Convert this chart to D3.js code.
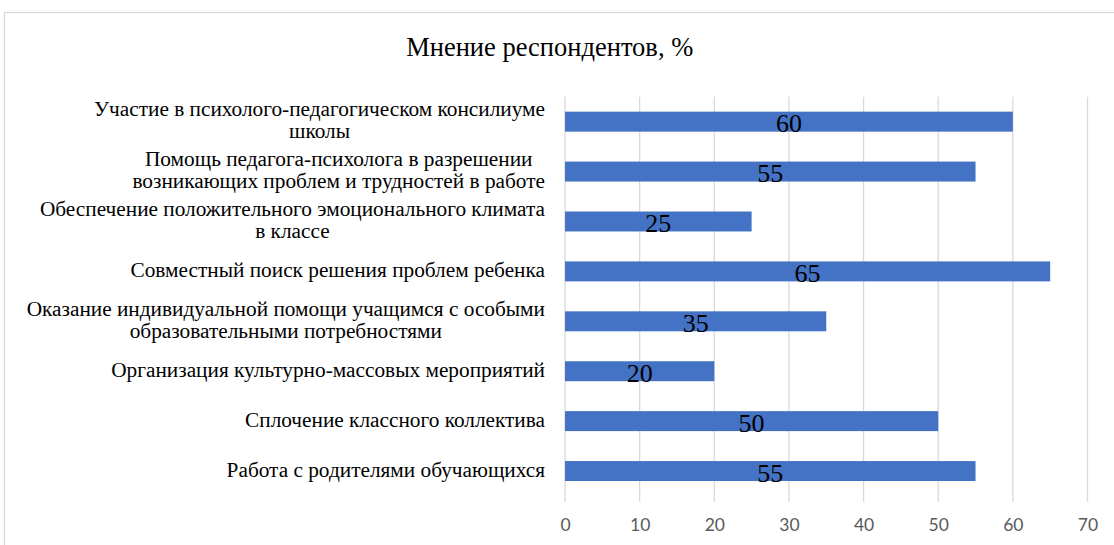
<!DOCTYPE html>
<html>
<head>
<meta charset="utf-8">
<script src="https://cdn.jsdelivr.net/npm/d3@7"></script>
<style>
  html, body { margin: 0; padding: 0; background: #fff; }
  svg { display: block; }
  svg text { font-family: 'Liberation Serif', 'Times New Roman', serif; }
  svg text.tick-label { font-family: Lato, 'Liberation Sans', sans-serif; }
</style>
</head>
<body>
<svg id="chart" width="1114" height="545"></svg>
<script>
const title = "Мнение респондентов, %";
const categories = [
  ["Участие в психолого-педагогическом консилиуме", "школы"],
  ["Помощь педагога-психолога в разрешении", "возникающих проблем и трудностей в работе"],
  ["Обеспечение положительного эмоционального климата", "в классе"],
  ["Совместный поиск решения проблем ребенка"],
  ["Оказание индивидуальной помощи учащимся с особыми", "образовательными потребностями"],
  ["Организация культурно-массовых мероприятий"],
  ["Сплочение классного коллектива"],
  ["Работа с родителями обучающихся"]
];
const values = [60, 55, 25, 65, 35, 20, 50, 55];
const xTicks = [0, 10, 20, 30, 40, 50, 60, 70];

const svg = d3.select("#chart");

// chart frame
svg.append("rect")
  .attr("x", 4.5).attr("y", 12.5)
  .attr("width", 1130).attr("height", 560)
  .attr("fill", "#fff").attr("stroke", "#d9d9d9").attr("stroke-width", 1.3);

const plot = { left: 565, right: 1087.5, top: 96.7, bottom: 496 };

const x = d3.scaleLinear().domain([0, 70]).range([plot.left, plot.right]);
const y = d3.scaleBand().domain(d3.range(categories.length))
  .range([plot.top, plot.bottom]).paddingInner(0.6).paddingOuter(0.3);

// title
svg.append("text")
  .attr("x", 549.7).attr("y", 56)
  .attr("text-anchor", "middle")
  .style("font-size", "26.5px")
  .attr("fill", "#000")
  .text(title);

// gridlines
svg.append("g").selectAll("line").data(xTicks).join("line")
  .attr("x1", d => x(d)).attr("x2", d => x(d))
  .attr("y1", plot.top).attr("y2", plot.bottom + 6)
  .attr("stroke", "#d9d9d9").attr("stroke-width", 1.3);

// x axis labels
const xAxis = d3.axisBottom(x).tickValues(xTicks).tickSize(0).tickPadding(0);
const gx = svg.append("g").attr("transform", `translate(0,${plot.bottom + 35})`).call(xAxis);
gx.select(".domain").remove();
gx.selectAll("text")
  .attr("class", "tick-label")
  .attr("dy", 0)
  .style("font-size", "17.5px")
  .attr("fill", "#595959");

// bars
svg.append("g").selectAll("rect").data(values).join("rect")
  .attr("x", x(0))
  .attr("y", (d, i) => y(i))
  .attr("width", d => x(d) - x(0))
  .attr("height", y.bandwidth())
  .attr("fill", "#4472c4");

// value labels
svg.append("g").selectAll("text").data(values).join("text")
  .attr("x", d => (x(0) + x(d)) / 2)
  .attr("y", (d, i) => y(i) + y.bandwidth() / 2 + 10.5)
  .attr("text-anchor", "middle")
  .style("font-size", "26px")
  .attr("fill", "#000")
  .text(d => d);

// category labels (wrapped lines, centered block, right aligned)
const labelRight = 545;
const lineH = 22.6;
const fontSize = 21.3;
const gl = svg.append("g");
categories.forEach((lines, i) => {
  const cy = y(i) + y.bandwidth() / 2;
  const widths = lines.map(l => {
    const t = gl.append("text").style("font-size", fontSize + "px").text(l);
    const w = t.node().getComputedTextLength();
    t.remove();
    return w;
  });
  const maxW = d3.max(widths);
  const cx = labelRight - maxW / 2;
  const n = lines.length;
  lines.forEach((l, k) => {
    gl.append("text")
      .attr("x", cx)
      .attr("y", cy + (k - (n - 1) / 2) * lineH + 5.5)
      .attr("text-anchor", "middle")
      .style("font-size", fontSize + "px")
      .attr("fill", "#000")
      .text(l);
  });
});
</script>
</body>
</html>
